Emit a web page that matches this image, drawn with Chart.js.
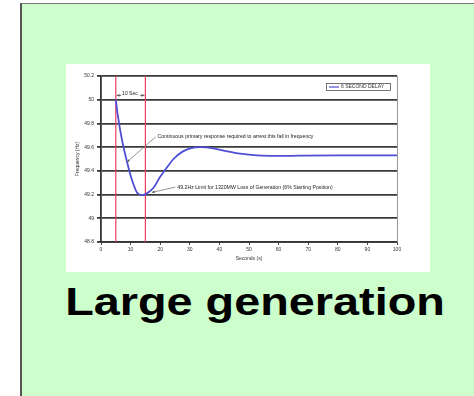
<!DOCTYPE html>
<html>
<head>
<meta charset="utf-8">
<script src="https://cdn.jsdelivr.net/npm/chart.js@4.4.0/dist/chart.umd.min.js"></script>
<style>
  html, body { margin: 0; padding: 0; background: #fff; width: 474px; height: 396px; overflow: hidden; }
  #slide { position: absolute; left: 20px; top: 3px; width: 452px; height: 393px; background: #ccffcc;
           border-left: 2px solid #555; border-top: 1px solid #777; }
  #wrap { position: absolute; left: 66px; top: 64px; width: 364px; height: 208px; background: #fff; }
  #title { position: absolute; left: 0; top: 282px; width: 510px; text-align: center; color: #000;
           font: bold 39px "Liberation Sans", Arial, sans-serif; line-height: 39px; transform: scaleX(1.2); }
</style>
</head>
<body>
<div id="slide"></div>
<div id="wrap"><canvas id="chart" width="364" height="208"></canvas></div>
<div id="title">Large generation</div>

<script>
// data
const seriesName = '6 SECOND DELAY';
const seconds   = [5, 5.6, 7.1, 8.8, 10.5, 12.2, 13.9, 15.5, 17.8, 20, 22.3, 24.5, 27.4, 30.2, 33.6, 38, 42.6, 47, 52.7, 59.5, 67, 80, 100];
const frequency = [50.0, 49.88, 49.66, 49.475, 49.32, 49.215, 49.195, 49.21, 49.26, 49.35, 49.43, 49.5, 49.56, 49.59, 49.6, 49.59, 49.565, 49.545, 49.53, 49.526, 49.528, 49.53, 49.53];
const delayLines = [5, 15];
const xTicks = [0, 10, 20, 30, 40, 50, 60, 70, 80, 90, 100];
const yTicks = [48.8, 49, 49.2, 49.4, 49.6, 49.8, 50, 50.2];

const yMin = yTicks[0], yMax = yTicks[yTicks.length - 1];

// annotation texts, anchored in data units
const notes = [
    { text: 'Continuous primary response required to arrest this fall in frequency', from: [18.4, 49.685], to: [8.8, 49.475] },
    { text: '49.2Hz Limit for 1320MW Loss of Generation (6% Starting Position)', from: [25.1, 49.263], to: [17.2, 49.218] }
];
const spanLabel = '10 Sec.';

const blue = '#4f4fd6';
const red = '#ec3d5e';

const overlay = {
    id: 'overlay',
    beforeDraw(chart) {
        const ctx = chart.ctx;
        ctx.save();
        ctx.fillStyle = '#fff';
        ctx.fillRect(0, 0, chart.width, chart.height);
        ctx.restore();
    },
    afterDraw(chart) {
        const { ctx, chartArea: a, scales: { x, y } } = chart;
        ctx.save();

        // right border of plot
        ctx.strokeStyle = '#999';
        ctx.lineWidth = 1;
        ctx.beginPath();
        ctx.moveTo(a.right + 0.5, a.top);
        ctx.lineTo(a.right + 0.5, a.bottom);
        ctx.stroke();

        // legend box
        const bw = 64, bh = 7;
        const bx = a.right - 7 - bw, by = a.top + 7;
        ctx.fillStyle = '#fff';
        ctx.fillRect(bx, by, bw, bh);
        ctx.strokeStyle = '#555';
        ctx.lineWidth = 0.8;
        ctx.strokeRect(bx + 0.5, by + 0.5, bw, bh);
        ctx.strokeStyle = blue;
        ctx.lineWidth = 1.2;
        ctx.beginPath();
        ctx.moveTo(bx + 3, by + bh / 2 + 0.5);
        ctx.lineTo(bx + 13, by + bh / 2 + 0.5);
        ctx.stroke();
        ctx.fillStyle = '#333';
        ctx.font = '5px Arial';
        ctx.textBaseline = 'middle';
        ctx.fillText(seriesName, bx + 15, by + bh / 2 + 0.5);

        // span label between red lines
        const sx0 = x.getPixelForValue(delayLines[0]);
        const sx1 = x.getPixelForValue(delayLines[1]);
        const sy = y.getPixelForValue(50.045);
        ctx.font = '5px Arial';
        ctx.textAlign = 'center';
        ctx.fillStyle = '#222';
        ctx.fillText(spanLabel, (sx0 + sx1) / 2, sy - 1);
        const tw = ctx.measureText(spanLabel).width;
        ctx.strokeStyle = '#333';
        ctx.lineWidth = 0.7;
        ctx.beginPath();
        ctx.moveTo(sx0 + 1, sy + 1); ctx.lineTo((sx0 + sx1) / 2 - tw / 2 - 1, sy + 1);
        ctx.moveTo((sx0 + sx1) / 2 + tw / 2 + 1, sy + 1); ctx.lineTo(sx1 - 1, sy + 1);
        ctx.stroke();
        arrowHead(ctx, (sx0 + sx1) / 2 - tw / 2, sy + 1, sx0 + 1, sy + 1);
        arrowHead(ctx, (sx0 + sx1) / 2 + tw / 2, sy + 1, sx1 - 1, sy + 1);

        // leader notes
        ctx.textAlign = 'left';
        notes.forEach(n => {
            const x0 = x.getPixelForValue(n.from[0]), y0 = y.getPixelForValue(n.from[1]);
            const x1 = x.getPixelForValue(n.to[0]), y1 = y.getPixelForValue(n.to[1]);
            ctx.strokeStyle = '#666';
            ctx.lineWidth = 0.7;
            ctx.beginPath();
            ctx.moveTo(x0, y0);
            ctx.lineTo(x1, y1);
            ctx.stroke();
            arrowHead(ctx, x0, y0, x1, y1);
            ctx.fillStyle = '#222';
            ctx.font = '5.2px Arial';
            ctx.fillText(n.text, x0 + 2, y0);
        });
        ctx.restore();
    }
};

function arrowHead(ctx, fx, fy, tx, ty) {
    const ang = Math.atan2(ty - fy, tx - fx);
    const len = 3;
    ctx.save();
    ctx.fillStyle = '#555';
    ctx.beginPath();
    ctx.moveTo(tx, ty);
    ctx.lineTo(tx - len * Math.cos(ang - 0.45), ty - len * Math.sin(ang - 0.45));
    ctx.lineTo(tx - len * Math.cos(ang + 0.45), ty - len * Math.sin(ang + 0.45));
    ctx.closePath();
    ctx.fill();
    ctx.restore();
}

const datasets = [{
    label: seriesName,
    data: seconds.map((s, i) => ({ x: s, y: frequency[i] })),
    borderColor: blue,
    borderWidth: 1.8,
    pointRadius: 0,
    cubicInterpolationMode: 'monotone',
    fill: false
}];
delayLines.forEach(d => {
    datasets.push({
        label: 'delay ' + d,
        data: [{ x: d, y: yMin }, { x: d, y: yMax }],
        borderColor: red,
        borderWidth: 1.2,
        pointRadius: 0,
        fill: false
    });
});

new Chart(document.getElementById('chart').getContext('2d'), {
    type: 'line',
    data: { datasets: datasets },
    options: {
        responsive: false,
        animation: false,
        layout: { padding: { top: 12, right: 33, left: 0, bottom: 10 } },
        plugins: { legend: { display: false }, tooltip: { enabled: false } },
        scales: {
            x: {
                type: 'linear',
                min: 0,
                max: 100,
                afterBuildTicks: s => { s.ticks = xTicks.map(v => ({ value: v })); },
                afterFit: s => { s.height = 20; },
                grid: { drawOnChartArea: false, drawTicks: true, tickLength: 3, color: '#444', lineWidth: 1 },
                border: { color: '#333', width: 1.8 },
                ticks: { font: { size: 5, family: 'Arial' }, color: '#333', padding: 2, maxRotation: 0, autoSkip: false },
                title: { display: true, text: 'Seconds (s)', font: { size: 5, family: 'Arial' }, color: '#333', padding: { top: 2, bottom: 0 } }
            },
            y: {
                min: yMin,
                max: yMax,
                afterBuildTicks: s => { s.ticks = yTicks.map(v => ({ value: v })); },
                afterFit: s => { s.width = 35; },
                grid: { color: '#3a3a3a', lineWidth: 1.8, tickLength: 4, drawTicks: true },
                border: { color: '#333', width: 1.8 },
                ticks: {
                    font: { size: 5, family: 'Arial' }, color: '#333', padding: 3, autoSkip: false,
                    callback: v => String(Math.round(v * 10) / 10)
                },
                title: { display: true, text: 'Frequency (Hz)', font: { size: 5, family: 'Arial' }, color: '#333', padding: { top: 9, bottom: 2 } }
            }
        }
    },
    plugins: [overlay]
});
</script>
</body>
</html>
